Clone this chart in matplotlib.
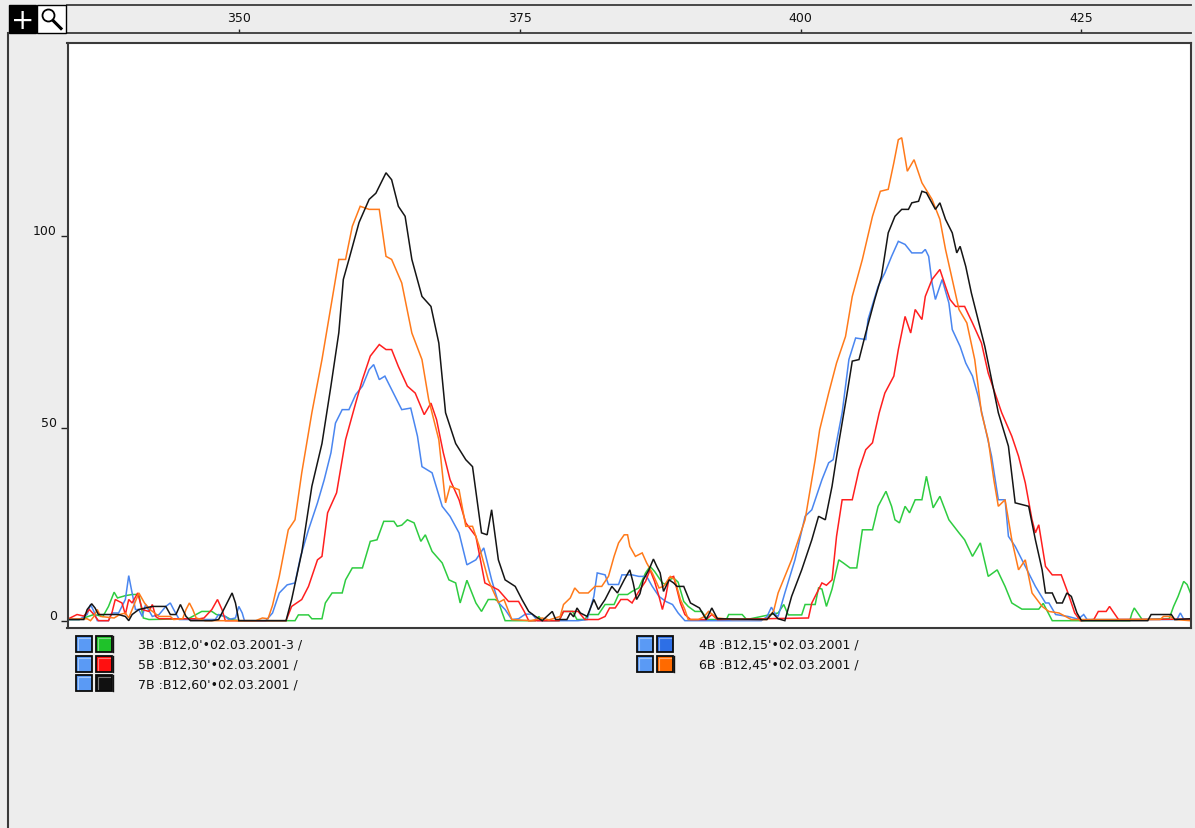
import matplotlib.pyplot as plt
from matplotlib.patches import Rectangle, Circle
from matplotlib.lines import Line2D

# fragment size / signal pairs, one list per sample
trace_3b = [(334.7, 0.3), (335.8, 0.3), (336.2, 0.7), (337.1, 1.6), (337.9, 1.1), (338.4, 3.7), (338.9, 7.4),
            (339.2, 5.9), (339.9, 6.5), (340.5, 6.8), (341.1, 6.8), (341.5, 0.7), (342, 0.3), (345.5, 0.5),
            (346.7, 2.4), (347.6, 2.4), (348, 1.6), (348.8, 1.1), (349.3, 0.3), (350, 0), (355, 0), (355.3, 1.5),
            (356.2, 1.5), (356.5, 0.5), (357.4, 0.5), (357.7, 4.6), (358.3, 7.2), (359.2, 7.2), (359.5, 10.6),
            (360.1, 13.7), (361, 13.7), (361.7, 20.6), (362.3, 21), (362.9, 25.8), (363.8, 25.8), (364.1, 24.5),
            (364.5, 24.8), (365, 26.2), (365.6, 25.4), (366.2, 20.6), (366.6, 22.3), (367.2, 18), (368.1, 15),
            (368.7, 10.6), (369.3, 9.8), (369.7, 4.6), (370.3, 10.5), (371.1, 4.6), (371.6, 2.4), (372.2, 5.5),
            (372.8, 5.5), (373.1, 5), (373.4, 2.4), (373.7, 0), (376.4, 0), (376.7, 1.1), (377, 0), (378.5, 0),
            (378.9, 2.4), (379.7, 2.4), (380.1, 0.3), (380.8, 0.3), (381.1, 1.6), (382, 1.6), (382.6, 4.2),
            (383.4, 4.2), (383.8, 6.8), (384.6, 6.8), (385, 7.6), (385.6, 8.5), (386.2, 12.4), (386.6, 14.1),
            (387, 12.8), (387.7, 9.8), (388, 9.4), (388.3, 10.6), (388.7, 11.1), (389.1, 10), (389.6, 5),
            (390, 3.7), (390.6, 2.4), (391.2, 2.4), (391.7, 0.3), (393.4, 0.3), (393.6, 1.6), (394.8, 1.6),
            (395.2, 0.3), (398, 2), (398.5, 4.2), (398.9, 1.5), (400.1, 1.5), (400.4, 4.2), (401.3, 4.2),
            (401.6, 8.5), (401.9, 8.2), (402.3, 3.7), (402.8, 8.2), (403.4, 15.8), (403.8, 15), (404.4, 13.7),
            (405, 13.7), (405.5, 23.6), (406.4, 23.6), (406.9, 29.7), (407.6, 33.6), (408.1, 29.7), (408.4, 26.2),
            (408.8, 25.4), (409.3, 29.7), (409.7, 28), (410.2, 31.4), (410.8, 31.4), (411.2, 37.5), (411.8, 29.3),
            (412.4, 32.3), (413.2, 26.2), (414.1, 22.8), (414.6, 21), (415.3, 16.7), (416, 20.2), (416.7, 11.5),
            (417.5, 13.2), (418.2, 8.9), (418.8, 4.6), (419.7, 3), (421.2, 3), (421.6, 4.5), (422.4, 0),
            (429.3, 0), (429.5, 2), (429.7, 3.3), (430.1, 1.6), (430.4, 0.3), (432.8, 0.5), (433.2, 3.7),
            (433.6, 6.3), (434.1, 10.2), (434.4, 9.4), (434.7, 7.2)]

trace_4b = [(334.7, 0.3), (335.8, 0.3), (336.5, 1.6), (336.8, 4.2), (337.1, 2.4), (337.4, 0), (338.4, 0),
            (338.7, 2), (339.3, 2), (339.9, 5.5), (340.2, 11.7), (340.5, 7.2), (340.8, 2.9), (341.1, 2.9),
            (341.4, 1.1), (341.7, 4.2), (342.3, 1.1), (342.9, 1.6), (343.5, 3.7), (343.9, 4.6), (344.2, 2.9),
            (344.7, 0.3), (347.9, 0.3), (348.2, 1.6), (348.8, 1.1), (349.1, 0.3), (349.7, 0.7), (350, 3.7),
            (350.3, 2), (350.5, 0), (352.4, 0), (353, 2), (353.6, 7.2), (354.3, 9.3), (355, 9.8), (355.5, 16.7),
            (356.2, 23.6), (357, 30.6), (357.6, 36.6), (358.2, 43.6), (358.6, 51.3), (359.2, 54.8), (359.8, 54.8),
            (360.4, 58.7), (361, 60.9), (361.6, 65.2), (362, 66.5), (362.5, 62.6), (363, 63.5), (363.6, 60),
            (364.5, 54.8), (365.3, 55.2), (365.9, 47.9), (366.3, 40), (367.2, 38.4), (368.1, 29.7), (368.8, 27.1),
            (369.6, 22.8), (370.3, 14.5), (371.1, 15.8), (371.8, 18.9), (372.5, 10.6), (373.1, 4.7), (373.7, 2.9),
            (374.3, 0.3), (374.9, 0.5), (375.5, 1.7), (376.1, 1.7), (376.6, 0), (380.2, 0), (381, 0.3),
            (381.6, 6.3), (381.9, 12.4), (382.6, 11.9), (382.9, 9.4), (383.8, 9.4), (384.1, 11.9), (385, 11.9),
            (385.6, 11.5), (386.3, 11.5), (386.8, 8.9), (387.4, 6.3), (388, 5), (388.6, 4.2), (389.1, 2),
            (389.7, 0), (396.5, 0), (397, 1), (397.4, 3.5), (397.8, 1.5), (398, 1.1), (398.6, 7.2), (399.5, 15.8),
            (400.4, 27.1), (401, 28.8), (401.9, 36.6), (402.5, 41), (402.9, 41.8), (403.7, 54), (404.3, 67.8),
            (404.9, 73.4), (405.8, 73), (406, 78.2), (406.9, 86.8), (407.5, 90.3), (408.1, 94.6), (408.7, 98.5),
            (409.3, 97.7), (409.9, 95.5), (410.8, 95.5), (411.1, 96.4), (411.4, 94.6), (411.7, 87.7), (412, 83.4),
            (412.6, 88.6), (413.2, 82.5), (413.5, 75.6), (414.2, 71.2), (414.7, 66.9), (415.3, 63.5), (415.8, 58.3),
            (416.4, 50.5), (417, 42.7), (417.6, 31.4), (418.2, 31.4), (418.5, 21.9), (419.1, 19.3), (420, 14.1),
            (420.9, 8.9), (421.8, 4.6), (422.1, 4.6), (422.7, 1.6), (423.8, 1.1), (424.7, 0.4), (425.2, 1.6),
            (425.5, 0.3), (433.5, 0.3), (433.8, 2), (434.1, 0.4), (434.7, 0.3)]

trace_5b = [(334.7, 0.3), (335.6, 1.6), (336.2, 1.2), (336.7, 2.9), (337.1, 1.6), (337.5, 0), (338.4, 0),
            (338.7, 2), (339, 5.5), (339.6, 4.6), (339.9, 1.6), (340.2, 5.5), (340.5, 4.6), (341, 7.2),
            (341.4, 2.9), (342, 2.4), (342.3, 4.2), (342.6, 1.1), (342.9, 0.5), (346.5, 0.5), (346.9, 0.7),
            (347.6, 2.9), (348.1, 5.5), (348.5, 2.9), (348.8, 0), (354.2, 0), (354.7, 3.7), (355.6, 5.5),
            (356.2, 8.9), (357, 15.8), (357.4, 16.7), (357.9, 28), (358.7, 33.2), (359.5, 47), (360.4, 56.5),
            (361, 62.6), (361.7, 68.7), (362.5, 71.7), (363.1, 70.4), (363.6, 70.4), (364.2, 66), (365, 60.9),
            (365.7, 59.1), (366.5, 53.5), (367.1, 56.5), (367.6, 52.2), (368.2, 43.6), (368.8, 36.6), (369.6, 31.4),
            (370.2, 25.4), (371.1, 21.9), (371.9, 9.8), (373.1, 8), (374, 5), (374.9, 5), (375.4, 2.4), (375.8, 0),
            (378.5, 0), (378.9, 2.4), (380.2, 2.4), (380.8, 0.3), (382, 0.3), (382.6, 1.1), (383, 3.3),
            (383.5, 3.3), (384, 5.5), (384.6, 5.5), (385, 4.6), (385.6, 7.6), (386.2, 10.2), (386.6, 13.2),
            (387, 10.2), (387.4, 6.3), (387.7, 2.9), (388, 6.3), (388.3, 11.1), (388.7, 11.5), (389, 8.1),
            (389.3, 4.6), (389.7, 1.6), (390.2, 0.3), (391.6, 0.3), (392.1, 1.6), (392.6, 0.3), (400.7, 0.7),
            (401, 4.6), (401.9, 9.8), (402.3, 9.2), (402.8, 10.6), (403.2, 21.9), (403.7, 31.4), (404.6, 31.4),
            (405.2, 39.2), (405.8, 44.4), (406.4, 46.2), (407, 54), (407.5, 59.1), (408.3, 63.5), (408.7, 70.4),
            (409.3, 79), (409.8, 74.7), (410.2, 80.8), (410.8, 78.2), (411.1, 84.2), (411.7, 88.6), (412.4, 91.2),
            (412.9, 86.8), (413.3, 83.4), (413.8, 81.6), (414.6, 81.6), (415.3, 77.3), (416.1, 72.1), (416.7, 64.3),
            (417.3, 59.1), (417.9, 54), (418.8, 47.9), (419.4, 42.7), (420, 35.8), (420.6, 26.2), (420.9, 22.8),
            (421.2, 24.9), (421.8, 14.1), (422.4, 11.9), (423.2, 11.9), (423.8, 7.2), (424.4, 2), (424.9, 0),
            (426.1, 0.3), (426.5, 2.4), (427.2, 2.4), (427.5, 3.7), (427.8, 2.4), (428.3, 0.3), (434.7, 0.4)]

trace_6b = [(334.7, 0.4), (336.5, 0.5), (336.8, 0), (337.1, 1.1), (337.4, 2.9), (337.7, 1.1), (338.9, 0.7),
            (339.4, 1.6), (339.9, 2), (340.2, 0.7), (341.1, 7.2), (341.6, 4.6), (342.1, 2.9), (342.9, 1.1),
            (343.9, 1.1), (344.2, 0.3), (345, 0.5), (345.3, 2.9), (345.6, 4.6), (345.9, 2.9), (346.2, 0.7),
            (347, 0), (351.5, 0), (352.1, 0.7), (352.6, 0.5), (353, 4), (353.6, 11.5), (354.4, 23.6), (355, 26.2),
            (355.6, 38.4), (356.5, 54), (357.4, 67.8), (358.3, 83.4), (358.9, 93.8), (359.5, 93.8), (360.1, 102.4),
            (360.8, 107.6), (361.6, 106.8), (362.5, 106.8), (363.1, 94.6), (363.6, 93.8), (364.5, 87.7),
            (365.4, 74.7), (366.3, 67.8), (366.9, 57.4), (367.8, 47), (368.4, 30.6), (368.8, 34.9), (369.6, 34),
            (370.2, 24.5), (370.8, 24.5), (371.4, 19.3), (372.2, 10.6), (373.1, 4.7), (373.6, 5.5), (374.3, 0.3),
            (376, 0), (377, 0.7), (377.6, 0.2), (378.6, 1.1), (378.9, 4.2), (379.5, 5.9), (379.9, 8.5),
            (380.3, 7.2), (381.1, 7.2), (381.7, 8.9), (382.3, 8.9), (382.9, 11.5), (383.4, 16.7), (383.8, 20.2),
            (384.3, 22.3), (384.6, 22.3), (384.8, 19.3), (385.3, 16.7), (385.9, 17.6), (386.3, 15), (386.8, 12.4),
            (387.4, 8.5), (387.8, 8.9), (388.4, 11.5), (388.8, 10.7), (389.3, 5.5), (389.7, 2.9), (390, 0.3),
            (390.9, 0.3), (391.4, 1), (391.8, 2.4), (392.6, 0.7), (393.9, 0.3), (397, 0.3), (397.6, 2.5),
            (398, 7.2), (399.2, 15.8), (400.4, 26.2), (401.3, 41.8), (401.7, 49.6), (402.5, 59.1), (403.2, 66.9),
            (404, 73.8), (404.6, 84.2), (405.5, 93.8), (406.4, 105), (407.1, 111.5), (407.8, 112), (408.3, 118.9),
            (408.7, 124.9), (409, 125.4), (409.5, 116.7), (410.1, 119.7), (410.8, 113.7), (411.7, 109.4),
            (412.4, 104.2), (412.9, 96.4), (413.5, 88.6), (414.1, 80.8), (414.8, 77.3), (415.5, 67.8), (416.1, 54),
            (416.7, 47), (417.2, 36.6), (417.6, 29.7), (418.2, 31.4), (418.8, 21), (419.4, 13.2), (420, 15.8),
            (420.6, 7.2), (421.5, 3.7), (422.1, 2.4), (423, 2), (424.1, 0.3), (432, 0.3), (432.3, 1.1),
            (432.9, 1.1), (433.3, 0.3), (434.7, 0)]

trace_7b = [(334.7, 0.3), (336.2, 0.3), (336.5, 2.9), (336.9, 4.4), (337.2, 3.3), (337.5, 1.6), (339.3, 1.6),
            (339.9, 1.1), (340.2, 0), (340.5, 1.6), (341.1, 2.9), (342.3, 3.7), (343.5, 3.7), (343.9, 1.6),
            (344.4, 1.6), (344.8, 4.2), (345.3, 1.1), (345.7, 0), (347.6, 0), (348.2, 0.3), (348.5, 2),
            (349.1, 5.5), (349.4, 7.2), (349.7, 4.6), (350, 0), (354.2, 0), (354.7, 5.5), (355.6, 17.7),
            (356.5, 34.9), (357.4, 46), (358.2, 61), (358.9, 74.8), (359.3, 88.6), (359.8, 93.8), (360.7, 103.4),
            (361.6, 109.4), (362.2, 111), (363.1, 116.3), (363.6, 114.5), (364.2, 107.6), (364.8, 105),
            (365.4, 93.8), (366.3, 84.2), (367.1, 81.6), (367.8, 72.1), (368.4, 54), (369.3, 46), (370.2, 41.8),
            (370.8, 40), (371.6, 22.8), (372.1, 22.3), (372.5, 28.8), (373.1, 15.8), (373.7, 10.6), (374.6, 8.9),
            (375.2, 5.5), (375.8, 2.4), (376.4, 1.1), (377, 0), (377.6, 1.6), (377.9, 2.4), (378.2, 0.3),
            (379.2, 0.3), (379.5, 2), (379.8, 1), (380.1, 3.3), (380.4, 2), (381, 1.1), (381.6, 5.5), (382, 2.9),
            (382.6, 5.5), (383.2, 8.9), (383.7, 7.2), (384.3, 10.6), (384.8, 13.2), (385.1, 9.8), (385.4, 5.5),
            (385.7, 7), (386, 10.6), (386.5, 13.2), (386.9, 16), (387.2, 14.1), (387.5, 12.4), (387.8, 7.6),
            (388.3, 10.6), (388.7, 9.8), (389, 8.9), (389.6, 8.9), (390.2, 4.6), (391, 3.3), (391.6, 0.3),
            (392.1, 3.3), (392.6, 0.5), (397, 0.3), (397.5, 2), (398, 0.5), (398.6, 0), (399.2, 6.3),
            (400.1, 13.2), (401, 21), (401.6, 27.1), (402.2, 26.2), (402.8, 34.9), (403.4, 46.2), (404.1, 58.3),
            (404.6, 67.4), (405.2, 67.8), (405.8, 74.7), (406.6, 83.4), (407.2, 89.4), (407.8, 100.7), (408.4, 105),
            (409, 106.8), (409.6, 106.8), (409.9, 108.5), (410.5, 108.9), (410.8, 111.5), (411.2, 111.1),
            (412, 106.8), (412.4, 108.5), (412.9, 104.2), (413.5, 100.7), (413.9, 95.5), (414.2, 97.2), (414.7, 92),
            (415.2, 85.1), (415.8, 78.2), (416.4, 71.2), (417, 62.6), (417.6, 54), (418.5, 45.3), (419.1, 30.6),
            (420.3, 29.7), (420.9, 21), (421.5, 13.2), (421.8, 7.2), (422.4, 7.2), (422.8, 4.6), (423.3, 4.6),
            (423.7, 7.2), (424.1, 6.3), (424.6, 2), (425, 0), (430.9, 0), (431.2, 1.6), (433, 1.6), (433.3, 0.3),
            (434.7, 0.5)]

traces = [trace_3b, trace_4b, trace_5b, trace_6b, trace_7b]
colors = ['#2ecc40', '#4a86f0', '#ff1f1f', '#ff7a1a', '#151515']
swatch_colors = ['#1fc22a', '#2d6fe6', '#ff1010', '#ff6a00', '#111111']
labels = ["3B :B12,0'•02.03.2001-3 /", "4B :B12,15'•02.03.2001 /", "5B :B12,30'•02.03.2001 /",
          "6B :B12,45'•02.03.2001 /", "7B :B12,60'•02.03.2001 /"]
has_bar = [True, False, True, True, True]
x_ticks = [350, 375, 400, 425]
y_ticks = [0, 50, 100]

W, H = 1195, 829
bg = '#ededed'
edge = '#3a3a3a'


def box(x0, y0, x1, y1):
    # pixel box (top-left origin) -> figure fraction rect
    return [x0 / W, 1 - y1 / H, (x1 - x0) / W, (y1 - y0) / H]


fig = plt.figure(figsize=(W / 100, H / 100), dpi=100)
fig.patch.set_facecolor(bg)

# main trace panel
ax = fig.add_axes(box(67.5, 44, 1191, 629))
ax.set_facecolor('white')
for i, tr in enumerate(traces):
    xs = [p[0] for p in tr]
    ys = [p[1] for p in tr]
    ax.plot(xs, ys, color=colors[i], lw=1.1, solid_joinstyle='miter')
ax.set_xlim(334.75, 434.75)
ax.set_ylim(-1.9, 150)
for s in ax.spines.values():
    s.set_color(edge)
    s.set_linewidth(1.5)
ax.set_xticks([])
ax.set_yticks(y_ticks)
ax.tick_params(axis='y', direction='out', length=5, width=1, color='#222', labelleft=False)
for v in y_ticks:
    ax.text(-0.0095, v + 0.5, str(v), transform=ax.get_yaxis_transform(), ha='right', va='baseline',
            fontsize=9, color='#111')

# ruler on top
rax = fig.add_axes(box(67.5, 6, 1191, 34))
rax.set_facecolor(bg)
rax.set_xlim(ax.get_xlim())
rax.set_ylim(0, 1)
rax.spines['left'].set_visible(False)
rax.spines['right'].set_visible(False)
rax.spines['top'].set_color(edge)
rax.spines['bottom'].set_color(edge)
rax.spines['top'].set_linewidth(1.3)
rax.spines['bottom'].set_linewidth(1.3)
rax.set_yticks([])
rax.set_xticks(x_ticks)
rax.tick_params(axis='x', direction='in', length=3, width=1, color='#222', labelbottom=False)
for v in x_ticks:
    rax.text(v, 0.55, str(v), ha='center', va='center', fontsize=9, color='#111')

# overlay in pixel units for the window chrome and legend
ov = fig.add_axes([0, 0, 1, 1])
ov.set_xlim(0, W)
ov.set_ylim(H, 0)
ov.axis('off')
ov.patch.set_alpha(0)

ov.add_line(Line2D([8, 8], [34, H], color=edge, lw=1.5))
ov.add_patch(Rectangle((9, 6), 27, 28, facecolor='black', edgecolor='black'))
ov.text(22.5, 20.5, '+', color='white', fontsize=20, ha='center', va='center')
ov.add_patch(Rectangle((37, 6), 29, 28, facecolor='white', edgecolor='black', lw=1))
ov.add_patch(Circle((48.5, 16.5), 6, facecolor='none', edgecolor='black', lw=1.3))
ov.add_line(Line2D([53, 61], [21.5, 29.5], color='black', lw=2.2))


def swatch(x, y, color):
    ov.add_patch(Rectangle((x, y), 16, 16, facecolor=color, edgecolor='#0a0a0a', lw=1.3))
    ov.add_line(Line2D([x + 2, x + 2, x + 14], [y + 14, y + 2, y + 2], color='white', lw=0.8, alpha=0.45))


legend_pos = [(76, 637), (637, 637), (76, 657), (637, 657), (76, 676)]
for i, (lx, ly) in enumerate(legend_pos):
    swatch(lx, ly, '#5a9af5')
    swatch(lx + 20, ly, swatch_colors[i])
    if has_bar[i]:
        ov.add_line(Line2D([lx + 37.5, lx + 37.5], [ly, ly + 16], color='#111', lw=1))
    ov.text(lx + 62, ly + 8.5, labels[i], fontsize=9, ha='left', va='center', color='#111')

fig.savefig('out.png', dpi=100, facecolor=fig.get_facecolor())
